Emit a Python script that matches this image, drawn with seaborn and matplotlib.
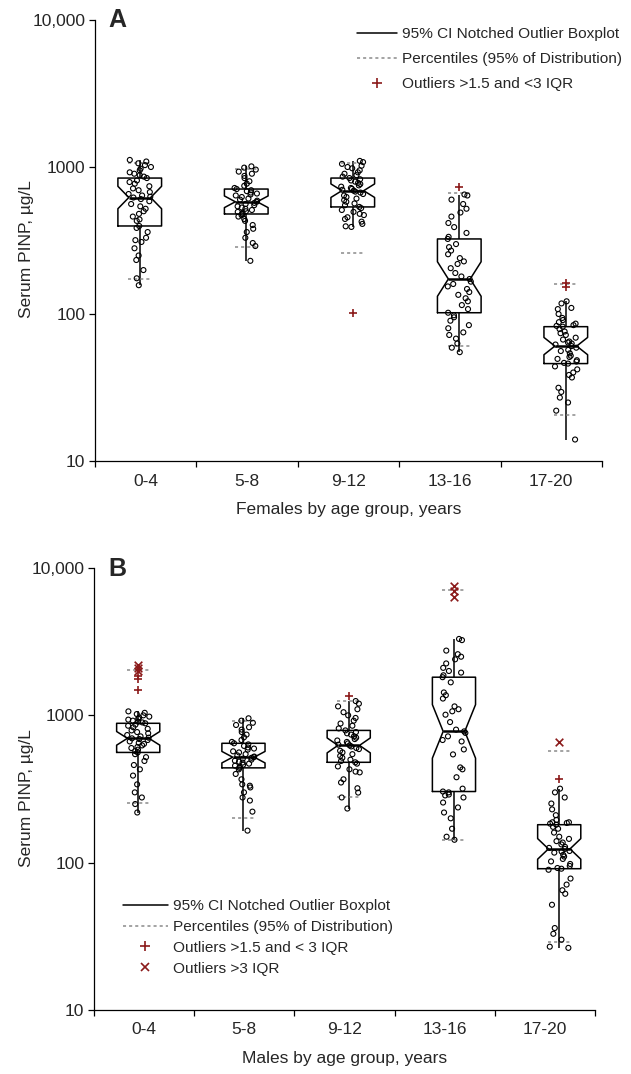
import numpy as np
import pandas as pd
import matplotlib
matplotlib.use("Agg")
import matplotlib.pyplot as plt
from matplotlib.lines import Line2D
from matplotlib.ticker import FixedLocator, NullLocator
import seaborn as sns

# ---- data (serum PINP, ug/L) ----
groups = ["0-4", "5-8", "9-12", "13-16", "17-20"]

# Females (panel A): observations shown as open circles
fem_0_4 = [1117, 1090, 1060, 1030, 1000, 975, 950, 920, 900, 880, 860,
           841, 810, 790, 770, 740, 715, 695, 675, 655, 640, 628,
           620,
           605, 585, 560, 540, 520, 500, 480, 460, 440, 430, 397,
           385, 361, 330, 318, 309, 280, 250, 233, 199, 175, 157]
fem_5_8 = [1010, 990, 960, 930, 900, 870, 840, 800, 770, 745, 720,
           708, 695, 685, 670, 660, 650, 640, 625, 610, 600, 590,
           580,
           570, 560, 550, 540, 530, 520, 510, 500, 495, 488, 479,
           470, 460, 443, 430, 403, 380, 361, 330, 304, 290, 230]
fem_9_12 = [1100, 1080, 1050, 1020, 1000, 980, 950, 920, 900, 880, 860,
            841, 825, 810, 795, 780, 765, 750, 735, 720, 710, 700,
            690,
            680, 670, 655, 640, 625, 610, 595, 580, 565, 550, 535,
            525, 510, 495, 480, 471, 455, 443, 425, 410, 395, 391]
fem_13_16 = [650, 640, 600, 560, 520, 490, 460, 416, 390, 356, 335,
             324, 299, 285, 270, 255, 240, 228, 219, 205, 190, 180,
             173,
             166, 160, 154, 148, 141, 135, 128, 122, 115, 108, 102,
             98, 95, 90, 84, 80, 75, 72, 68, 63, 59, 55]
fem_17_20 = [122, 118, 110, 108, 100, 94, 91, 88, 86, 84, 83,
             82, 79, 76, 74, 72, 69, 67, 65, 64, 63, 62,
             60.5,
             59, 57, 56, 54, 52, 51, 49.5, 48.5, 47.5, 46.5, 46,
             44, 42, 40, 38.5, 37, 31.5, 29.5, 27, 25, 22, 14]
fem_p025 = [173, 286, 260, 60.5, 20.6]
fem_p975 = [1060, 969, 1060, 665, 160]
fem_mod_group = ["9-12", "13-16", "17-20", "17-20"]
fem_mod_value = [101, 730, 163, 152]

# Males (panel B)
mal_0_4 = [1064, 1040, 1020, 1000, 980, 965, 950, 935, 920, 905, 895,
           883, 865, 850, 830, 810, 790, 770, 755, 735, 720, 705,
           698,
           690, 680, 665, 650, 640, 625, 610, 600, 585, 572, 560,
           545, 520, 490, 460, 430, 390, 340, 300, 277, 250, 219]
mal_5_8 = [955, 920, 890, 860, 830, 800, 770, 740, 710, 680, 660,
           646, 635, 620, 605, 595, 585, 570, 560, 545, 535, 525,
           520,
           515, 508, 500, 492, 485, 478, 470, 462, 455, 448, 440,
           430, 400, 368, 340, 333, 324, 300, 277, 264, 222, 165]
mal_9_12 = [1250, 1200, 1150, 1100, 1050, 1000, 960, 920, 880, 850, 815,
            790, 770, 755, 740, 720, 705, 690, 675, 660, 645, 632,
            625,
            615, 600, 590, 575, 560, 545, 530, 515, 500, 490, 480,
            470, 450, 430, 415, 410, 368, 350, 320, 299, 277, 233]
mal_13_16 = [3300, 3240, 2750, 2600, 2500, 2400, 2250, 2100, 2000, 1950, 1870,
             1815, 1675, 1430, 1370, 1300, 1150, 1100, 1065, 1010, 900, 800,
             778,
             760, 720, 680, 665, 587, 543, 443, 430, 380, 318, 304,
             300, 290, 286, 277, 256, 237, 219, 200, 170, 150, 143]
mal_17_20 = [318, 300, 277, 252, 230, 210, 195, 188, 188, 186, 184,
             181, 175, 170, 160, 150, 145, 140, 137, 133, 128, 126,
             124,
             120, 119, 117, 113, 110, 106, 102, 98, 95, 92, 91,
             89.5, 78, 71, 65, 61.5, 51.8, 36, 32.9, 30, 26.9, 26.4]
mal_p025 = [256, 202, 277, 143, 29]
mal_p975 = [2020, 910, 1260, 7050, 569]
mal_mod_group = ["0-4", "0-4", "0-4", "9-12", "17-20"]
mal_mod_value = [1840, 1760, 1480, 1346, 367]
mal_ext_group = ["0-4", "0-4", "0-4", "13-16", "13-16", "13-16", "17-20"]
mal_ext_value = [2200, 2080, 1990, 7600, 7000, 6400, 655]

RED = "#8b1a1a"
GREY = "#8a8a8a"

sns.set_style("ticks")
plt.rcParams["font.family"] = ["Liberation Sans", "DejaVu Sans"]


def long_form(obs):
    return pd.concat([pd.DataFrame({"group": g, "value": v})
                      for g, v in zip(groups, obs)], ignore_index=True)


def draw_panel(ax, obs, p_lo, p_hi, mod_g, mod_v, ext_g=None, ext_v=None):
    df = long_form(obs)
    ax.set_yscale("log")
    sns.boxplot(data=df, x="group", y="value", order=groups, ax=ax,
                notch=True, whis=(0, 100), width=0.41, showfliers=False,
                fill=False, color="black", linewidth=1.1,
                medianprops={"linewidth": 1.8},
                capprops={"visible": False})
    np.random.seed(7)
    n_before = len(ax.collections)
    sns.stripplot(data=df, x="group", y="value", order=groups, ax=ax,
                  jitter=0.11, size=3.6, color="black", linewidth=0.8,
                  edgecolor="black", zorder=4)
    for coll in ax.collections[n_before:]:
        coll.set_facecolor("none")

    pos = np.arange(len(groups))
    for vals in (p_lo, p_hi):
        ax.hlines(vals, pos - 0.11, pos + 0.11, colors=GREY, lw=1.1,
                  linestyles=(0, (2, 2)), zorder=3)

    ax.scatter([groups.index(g) for g in mod_g], mod_v, marker="+",
               s=40, color=RED, linewidths=1.2, zorder=5)
    if ext_g is not None:
        ax.scatter([groups.index(g) for g in ext_g], ext_v, marker="x",
                   s=30, color=RED, linewidths=1.2, zorder=5)

    ax.set_ylim(10, 10000)
    ax.set_yticks([10, 100, 1000, 10000], labels=["10", "100", "1000", "10,000"])
    ax.yaxis.set_minor_locator(NullLocator())
    bounds = np.linspace(-0.42, 4.34, 6)
    ax.set_xlim(bounds[0], bounds[-1])
    ax.set_xticks((bounds[:-1] + bounds[1:]) / 2, labels=groups)
    ax.xaxis.set_minor_locator(FixedLocator(bounds))
    ax.tick_params(axis="x", which="major", length=0, pad=9, labelsize=12.5)
    ax.tick_params(axis="x", which="minor", length=4, width=0.9, color="black")
    ax.tick_params(axis="y", which="major", length=4, width=0.9, pad=3,
                   labelsize=12.5, color="black")
    sns.despine(ax=ax)
    for s in ("left", "bottom"):
        ax.spines[s].set_linewidth(0.9)
        ax.spines[s].set_color("black")
    ax.set_ylabel("Serum PINP, \u00b5g/L", fontsize=12.5)
    ax.yaxis.set_label_coords(-0.12, 0.48)


fig = plt.figure(figsize=(6.31, 10.74), dpi=100)
axA = fig.add_axes([95 / 631, 1 - 461 / 1074, 507 / 631, 441 / 1074])
axB = fig.add_axes([94 / 631, 1 - 1010 / 1074, 501 / 631, 442 / 1074])

draw_panel(axA, [fem_0_4, fem_5_8, fem_9_12, fem_13_16, fem_17_20],
           fem_p025, fem_p975, fem_mod_group, fem_mod_value)
axA.set_xlabel("Females by age group, years", fontsize=12.5, labelpad=10)

draw_panel(axB, [mal_0_4, mal_5_8, mal_9_12, mal_13_16, mal_17_20],
           mal_p025, mal_p975, mal_mod_group, mal_mod_value,
           mal_ext_group, mal_ext_value)
axB.set_xlabel("Males by age group, years", fontsize=12.5, labelpad=10)

fig.text(108 / 631, 1 - 8 / 1074, "A", fontsize=18, fontweight="bold",
         ha="left", va="top")
fig.text(108 / 631, 1 - 557 / 1074, "B", fontsize=18, fontweight="bold",
         ha="left", va="top")

h_box = Line2D([], [], color="black", lw=1.1)
h_pct = Line2D([], [], color=GREY, lw=1.1, linestyle=(0, (2, 2)))
h_mod = Line2D([], [], color=RED, marker="+", linestyle="none",
               markersize=6.5, markeredgewidth=1.2)
h_ext = Line2D([], [], color=RED, marker="x", linestyle="none",
               markersize=5.5, markeredgewidth=1.2)

axA.legend([h_box, h_pct, h_mod],
           ["95% CI Notched Outlier Boxplot",
            "Percentiles (95% of Distribution)",
            "Outliers >1.5 and <3 IQR"],
           loc="upper left", bbox_to_anchor=(357 / 631, 1 - 27 / 1074),
           bbox_transform=fig.transFigure, frameon=False, fontsize=11.1,
           handlelength=2.6, handletextpad=0.35, labelspacing=0.72,
           borderpad=0, borderaxespad=0)
axB.legend([h_box, h_pct, h_mod, h_ext],
           ["95% CI Notched Outlier Boxplot",
            "Percentiles (95% of Distribution)",
            "Outliers >1.5 and < 3 IQR",
            "Outliers >3 IQR"],
           loc="upper left", bbox_to_anchor=(123 / 631, 1 - 899 / 1074),
           bbox_transform=fig.transFigure, frameon=False, fontsize=11.1,
           handlelength=2.9, handletextpad=0.35, labelspacing=0.45,
           borderpad=0, borderaxespad=0)

fig.savefig("out.png", dpi=100)
